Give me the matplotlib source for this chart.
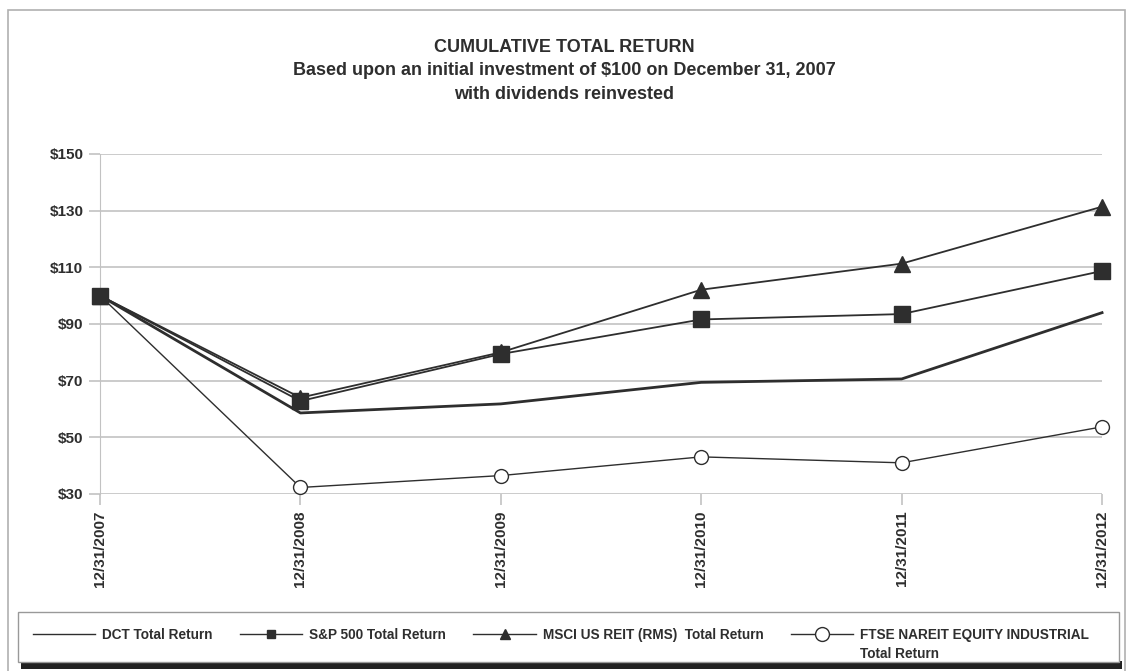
import numpy as np
import matplotlib.pyplot as plt
from matplotlib.patches import Rectangle

plt.rcParams['font.family'] = ['Liberation Sans', 'DejaVu Sans']

#################### data ####################
dates = ['12/31/2007', '12/31/2008', '12/31/2009', '12/31/2010', '12/31/2011', '12/31/2012']
dct   = [100, 58.6, 61.8, 69.4, 70.6, 94.0]
sp500 = [100, 62.8, 79.4, 91.6, 93.5, 108.7]
msci  = [100, 64.0, 80.0, 102.1, 111.3, 131.4]
ftse  = [100, 32.3, 36.5, 43.1, 41.0, 53.7]

yticks = [30, 50, 70, 90, 110, 130, 150]
ink = '#2e2e2e'
grid = '#c2c2c2'

fig = plt.figure(figsize=(11.28, 6.71), dpi=100)
ax = fig.add_axes([0.0887, 0.2638, 0.8883, 0.5067])
x = np.arange(len(dates))

ax.plot(x, dct, color=ink, lw=2.0, zorder=3, clip_on=False, label='DCT Total Return')
ax.plot(x, ftse, color=ink, lw=1.0, marker='o', ms=10, mfc='white', mec=ink, mew=1.0,
        zorder=3, clip_on=False, label='FTSE NAREIT EQUITY INDUSTRIAL')
ax.plot(x, msci, color=ink, lw=1.3, marker='^', ms=12, mfc=ink, mec=ink,
        zorder=4, clip_on=False, label='MSCI US REIT (RMS)  Total Return')
ax.plot(x, sp500, color=ink, lw=1.3, marker='s', ms=11, mfc=ink, mec=ink,
        zorder=5, clip_on=False, label='S&P 500 Total Return')

ax.set_xlim(0, len(dates) - 1)
ax.set_ylim(30, 150)
ax.set_yticks(yticks)
ax.set_yticklabels(['${}'.format(v) for v in yticks])
ax.set_xticks(x)
ax.set_xticklabels(dates, rotation=90, va='top')
for s in ['top', 'right', 'bottom']:
    ax.spines[s].set_visible(False)
ax.spines['left'].set_color(grid)
ax.spines['left'].set_zorder(1)
ax.yaxis.grid(True, color=grid, lw=1.2, zorder=0)
ax.set_axisbelow(True)
ax.tick_params(axis='both', color=grid, length=8, width=1.2, labelcolor=ink, labelsize=11, pad=4)
ax.tick_params(axis='x', pad=4)
for t in ax.get_xticklabels() + ax.get_yticklabels():
    t.set_fontweight('bold')

fig.text(0.5, 0.942, 'CUMULATIVE TOTAL RETURN\nBased upon an initial investment of $100 on December 31, 2007\nwith dividends reinvested',
         ha='center', va='top', fontsize=13, fontweight='bold', color=ink, linespacing=1.5)

# outer frame
fig.patches.append(Rectangle((0.007, -0.02), 0.99, 1.005, transform=fig.transFigure,
                             fill=False, ec='#b0b0b0', lw=1.2))
# legend box with dark shadow
fig.patches.append(Rectangle((0.019, 0.003), 0.976, 0.012, transform=fig.transFigure,
                             fc='#222222', ec='none'))
fig.patches.append(Rectangle((0.016, 0.0134), 0.976, 0.0746, transform=fig.transFigure,
                             fc='white', ec='#999999', lw=1.0))

h, l = ax.get_legend_handles_labels()
order = [0, 3, 2, 1]
leg = fig.legend([h[i] for i in order], [l[i] for i in order], ncol=4, frameon=False,
                 loc='upper left', bbox_to_anchor=(0.018, 0.083), handlelength=4.6,
                 columnspacing=2.0, handletextpad=0.5,
                 prop={'size': 9.8, 'weight': 'bold'})
for t in leg.get_texts():
    t.set_color(ink)
lh = leg.legend_handles
lh[0].set_linewidth(1.2)
lh[1].set_markersize(6)
lh[2].set_markersize(7)
lh[3].set_markersize(10)
for hh in lh:
    hh.set_linewidth(1.0)

# second line of the FTSE label, under the first
fig.canvas.draw()
bb = leg.get_texts()[3].get_window_extent().transformed(fig.transFigure.inverted())
fig.text(bb.x0, bb.y0 - 0.008, 'Total Return', ha='left', va='top',
         fontsize=9.8, fontweight='bold', color=ink)

fig.savefig('out.png', dpi=100)
